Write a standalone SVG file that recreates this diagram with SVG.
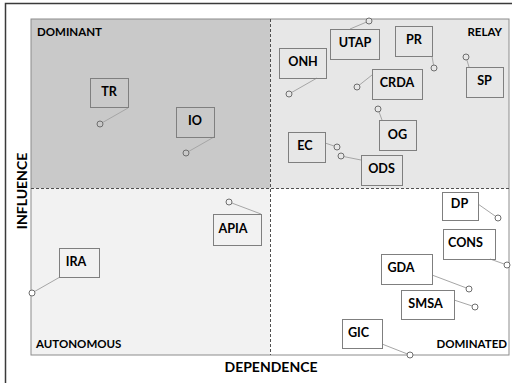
<svg xmlns="http://www.w3.org/2000/svg" width="512" height="383" viewBox="0 0 512 383">
<style>
.lbl{font-family:Lato,"Liberation Sans",Arial,sans-serif;font-weight:700;fill:#000}
.nt{font-size:12.6px;text-anchor:middle}
.q{font-size:11.5px}
.ax{font-size:14px;text-anchor:middle}
.box{fill:none;stroke:#7f7f7f;stroke-width:1}
.ln{stroke:#a6a6a6;stroke-width:1;fill:none}
.pt{stroke:#6e6e6e;stroke-width:1}
.div{stroke:#505050;stroke-width:1;stroke-dasharray:3 2;fill:none}
</style>
<rect width="512" height="383" fill="#fff"/>
<g id="frame">
<path d="M5.5 383 V3.5 H512" fill="none" stroke="#3a3a3a" stroke-width="1.5"/>
</g>
<g id="quadrants">
<rect x="31" y="19" width="239" height="169.5" fill="#c9c9c9"/>
<rect x="270" y="19" width="239" height="169.5" fill="#e7e7e7"/>
<rect x="31" y="188.5" width="239" height="166.5" fill="#f2f2f2"/>
<rect x="31" y="19" width="478" height="336" fill="none" stroke="#8c8c8c" stroke-width="1"/>
<line class="div" x1="270.5" y1="19" x2="270.5" y2="355"/>
<line class="div" x1="31" y1="188.5" x2="509" y2="188.5"/>
<text class="lbl q" x="37" y="36">DOMINANT</text>
<text class="lbl q" x="502" y="36" text-anchor="end">RELAY</text>
<text class="lbl q" x="36" y="348">AUTONOMOUS</text>
<text class="lbl q" x="507" y="348" text-anchor="end">DOMINATED</text>
</g>
<g id="axes">
<text class="lbl ax" x="271" y="372">DEPENDENCE</text>
<text class="lbl ax" x="27" y="191" transform="rotate(-90 27 191)">INFLUENCE</text>
</g>
<g id="connectors">
<line class="ln" x1="128" y1="108" x2="102.6" y2="122.5"/>
<line class="ln" x1="214" y1="137" x2="188.6" y2="151.5"/>
<line class="ln" x1="350" y1="29" x2="366.2" y2="22.2"/>
<line class="ln" x1="432" y1="56" x2="433.5" y2="65"/>
<line class="ln" x1="317" y1="78" x2="291.6" y2="92.5"/>
<line class="ln" x1="372" y1="75" x2="359.3" y2="85.1"/>
<line class="ln" x1="469" y1="67" x2="466.9" y2="59.9"/>
<line class="ln" x1="382" y1="120" x2="379" y2="111.8"/>
<line class="ln" x1="325" y1="143" x2="334.2" y2="146"/>
<line class="ln" x1="361" y1="160" x2="343.9" y2="156.6"/>
<line class="ln" x1="261" y1="214" x2="231.8" y2="203"/>
<line class="ln" x1="60" y1="277" x2="34.6" y2="291.5"/>
<line class="ln" x1="478" y1="204" x2="495.5" y2="216.3"/>
<line class="ln" x1="490" y1="259" x2="504.2" y2="264"/>
<line class="ln" x1="432" y1="275" x2="466.2" y2="287.9"/>
<line class="ln" x1="454" y1="300" x2="472.2" y2="306"/>
<line class="ln" x1="382" y1="344" x2="407.2" y2="353.9"/>
</g>
<g id="TR"><rect class="box" x="90.5" y="78.5" width="38" height="29"/><text class="lbl nt" x="109" y="95.5">TR</text><circle class="pt" cx="100" cy="124" r="3" fill="#c9c9c9"/></g>
<g id="IO"><rect class="box" x="176.5" y="107.5" width="38" height="30"/><text class="lbl nt" x="195" y="124.5">IO</text><circle class="pt" cx="186" cy="153" r="3" fill="#c9c9c9"/></g>
<g id="UTAP"><rect class="box" x="330.5" y="29.5" width="49" height="30"/><text class="lbl nt" x="355" y="46.5">UTAP</text><circle class="pt" cx="369" cy="21" r="3" fill="#e7e7e7"/></g>
<g id="PR"><rect class="box" x="395.5" y="26.5" width="37" height="30"/><text class="lbl nt" x="414" y="43.5">PR</text><circle class="pt" cx="434" cy="68" r="3" fill="#e7e7e7"/></g>
<g id="ONH"><rect class="box" x="279.5" y="48.5" width="47" height="30"/><text class="lbl nt" x="303" y="65.5">ONH</text><circle class="pt" cx="289" cy="94" r="3" fill="#e7e7e7"/></g>
<g id="CRDA"><rect class="box" x="372.5" y="69.5" width="50" height="30"/><text class="lbl nt" x="397" y="86.5">CRDA</text><circle class="pt" cx="357" cy="87" r="3" fill="#e7e7e7"/></g>
<g id="SP"><rect class="box" x="466.5" y="67.5" width="37" height="30"/><text class="lbl nt" x="484.5" y="84.5">SP</text><circle class="pt" cx="466" cy="57" r="3" fill="#e7e7e7"/></g>
<g id="OG"><rect class="box" x="379.5" y="120.5" width="37" height="30"/><text class="lbl nt" x="397.5" y="138.5">OG</text><circle class="pt" cx="378" cy="109" r="3" fill="#e7e7e7"/></g>
<g id="EC"><rect class="box" x="288.5" y="132.5" width="37" height="30"/><text class="lbl nt" x="305" y="149.5">EC</text><circle class="pt" cx="337" cy="147" r="3" fill="#e7e7e7"/></g>
<g id="ODS"><rect class="box" x="361.5" y="155.5" width="41" height="30"/><text class="lbl nt" x="381.5" y="172.5">ODS</text><circle class="pt" cx="341" cy="156" r="3" fill="#e7e7e7"/></g>
<g id="APIA"><rect class="box" x="213.5" y="214.5" width="48" height="31"/><text class="lbl nt" x="233" y="232.5">APIA</text><circle class="pt" cx="229" cy="202" r="3" fill="#f2f2f2"/></g>
<g id="IRA"><rect class="box" x="59.5" y="248.5" width="40" height="29"/><text class="lbl nt" x="76" y="265.5">IRA</text><circle class="pt" cx="32" cy="293" r="3" fill="#fff"/></g>
<g id="DP"><rect class="box" x="442.5" y="192.5" width="36" height="28"/><text class="lbl nt" x="459.5" y="207.5">DP</text><circle class="pt" cx="498" cy="218" r="3" fill="#fff"/></g>
<g id="CONS"><rect class="box" x="443.5" y="229.5" width="52" height="30"/><text class="lbl nt" x="465.5" y="246.5">CONS</text><circle class="pt" cx="507" cy="265" r="3" fill="#fff"/></g>
<g id="GDA"><rect class="box" x="381.5" y="254.5" width="51" height="30"/><text class="lbl nt" x="401" y="271.5">GDA</text><circle class="pt" cx="469" cy="289" r="3" fill="#fff"/></g>
<g id="SMSA"><rect class="box" x="401.5" y="290.5" width="53" height="29"/><text class="lbl nt" x="425.5" y="307.5">SMSA</text><circle class="pt" cx="475" cy="307" r="3" fill="#fff"/></g>
<g id="GIC"><rect class="box" x="342.5" y="319.5" width="40" height="29"/><text class="lbl nt" x="358.5" y="336.5">GIC</text><circle class="pt" cx="410" cy="355" r="3" fill="#fff"/></g>
</svg>
